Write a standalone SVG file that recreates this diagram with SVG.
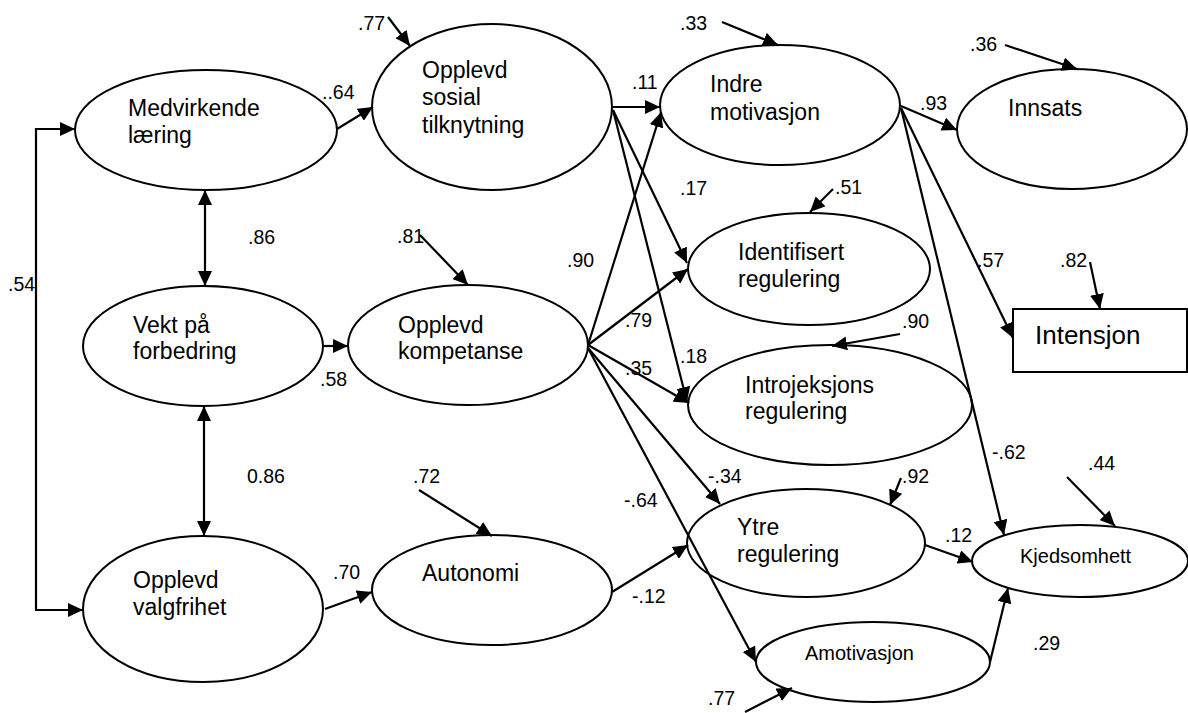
<svg xmlns="http://www.w3.org/2000/svg" width="1188" height="713" viewBox="0 0 1188 713">
<defs>
<marker id="ah" markerUnits="userSpaceOnUse" markerWidth="16" markerHeight="14" refX="15" refY="7" orient="auto">
<path d="M0,0 L15,7 L0,14 z" fill="#000"/>
</marker>
<marker id="ahs" markerUnits="userSpaceOnUse" markerWidth="16" markerHeight="14" refX="1" refY="7" orient="auto">
<path d="M16,0 L1,7 L16,14 z" fill="#000"/>
</marker>
</defs>
<style>
.n ellipse, .n rect { fill: #fff; stroke: #000; stroke-width: 2; }
.t { font-family: "Liberation Sans", Arial, sans-serif; font-size: 23px; fill: #000; }
.ts { font-family: "Liberation Sans", Arial, sans-serif; font-size: 20px; fill: #000; }
.lb { font-family: "Liberation Sans", Arial, sans-serif; font-size: 19.5px; fill: #000; }
#connectors line, #connectors polyline { stroke: #000; stroke-width: 2.2; fill: none; marker-end: url(#ah); }
#connectors .dbl { marker-start: url(#ahs); }
</style>
<rect width="1188" height="713" fill="#fff"/>

<g id="n-medvirkende" class="n"><ellipse cx="206" cy="130" rx="131" ry="60"/><text class="t" x="128" y="116">Medvirkende</text><text class="t" x="128" y="143">læring</text></g>
<g id="n-sosial" class="n"><ellipse cx="492" cy="107" rx="120" ry="83"/><text class="t" x="422" y="78">Opplevd</text><text class="t" x="422" y="105">sosial</text><text class="t" x="422" y="133">tilknytning</text></g>
<g id="n-indre" class="n"><ellipse cx="780" cy="105" rx="120" ry="60"/><text class="t" x="710" y="92">Indre</text><text class="t" x="710" y="120">motivasjon</text></g>
<g id="n-innsats" class="n"><ellipse cx="1072" cy="129" rx="115" ry="60"/><text class="t" x="1008" y="116">Innsats</text></g>
<g id="n-identifisert" class="n"><ellipse cx="809" cy="269" rx="121" ry="56"/><text class="t" x="738" y="260">Identifisert</text><text class="t" x="738" y="287">regulering</text></g>
<g id="n-introjeksjons" class="n"><ellipse cx="830" cy="405" rx="142" ry="60"/><text class="t" x="745" y="393">Introjeksjons</text><text class="t" x="745" y="419">regulering</text></g>
<g id="n-intensjon" class="n"><rect x="1013" y="309" width="174" height="63"/><text class="t" x="1035" y="344" style="font-size:26px">Intensjon</text></g>
<g id="n-vekt" class="n"><ellipse cx="203" cy="346" rx="120" ry="60"/><text class="t" x="133" y="333">Vekt på</text><text class="t" x="133" y="359">forbedring</text></g>
<g id="n-kompetanse" class="n"><ellipse cx="468" cy="345" rx="120" ry="60"/><text class="t" x="398" y="333">Opplevd</text><text class="t" x="398" y="359">kompetanse</text></g>
<g id="n-valgfrihet" class="n"><ellipse cx="203" cy="609" rx="120" ry="73"/><text class="t" x="133" y="588">Opplevd</text><text class="t" x="133" y="615">valgfrihet</text></g>
<g id="n-autonomi" class="n"><ellipse cx="492" cy="590" rx="120" ry="55"/><text class="t" x="422" y="581">Autonomi</text></g>
<g id="n-ytre" class="n"><ellipse cx="806" cy="543" rx="119" ry="54"/><text class="t" x="737" y="535">Ytre</text><text class="t" x="737" y="562">regulering</text></g>
<g id="n-kjedsomhett" class="n"><ellipse cx="1080" cy="561" rx="108" ry="36"/><text class="ts" x="1020" y="563">Kjedsomhett</text></g>
<g id="n-amotivasjon" class="n"><ellipse cx="873" cy="662" rx="117" ry="40"/><text class="ts" x="805" y="660">Amotivasjon</text></g>

<g id="connectors">
<polyline points="75,129 36,129 36,610 83,610" style="marker-start:url(#ahs)"/>
<line class="dbl" x1="205" y1="190" x2="205" y2="286"/>
<line class="dbl" x1="204" y1="406" x2="204" y2="536"/>
<line x1="337" y1="129" x2="373" y2="107"/>
<line x1="388" y1="17" x2="410" y2="46"/>
<line x1="612" y1="107" x2="660" y2="107"/>
<line x1="613" y1="110" x2="687" y2="263"/>
<line x1="613" y1="110" x2="687" y2="402"/>
<line x1="588" y1="345" x2="661" y2="112"/>
<line x1="588" y1="345" x2="688" y2="269"/>
<line x1="588" y1="345" x2="689" y2="403"/>
<line x1="588" y1="348" x2="720" y2="504"/>
<line x1="588" y1="348" x2="756" y2="662"/>
<line x1="612" y1="592" x2="688" y2="545"/>
<line x1="325" y1="609" x2="372" y2="592"/>
<line x1="323" y1="346" x2="348" y2="346"/>
<line x1="420" y1="235" x2="468" y2="285"/>
<line x1="419" y1="490" x2="492" y2="536"/>
<line x1="722" y1="22" x2="778" y2="45"/>
<line x1="1005" y1="45" x2="1077" y2="69"/>
<line x1="901" y1="106" x2="957" y2="130"/>
<line x1="833" y1="189" x2="810" y2="212"/>
<line x1="901" y1="108" x2="1013" y2="338"/>
<line x1="901" y1="108" x2="1004" y2="535"/>
<line x1="1090" y1="262" x2="1100" y2="309"/>
<line x1="900" y1="334" x2="832" y2="346"/>
<line x1="901" y1="478" x2="890" y2="505"/>
<line x1="1067" y1="477" x2="1115" y2="526"/>
<line x1="925" y1="545" x2="973" y2="562"/>
<line x1="990" y1="662" x2="1008" y2="588"/>
<line x1="745" y1="712" x2="792" y2="688"/>
</g>

<g id="labels">
<text class="lb" x="358" y="30">.77</text>
<text class="lb" x="322" y="99">..64</text>
<text class="lb" x="248" y="244">.86</text>
<text class="lb" x="8" y="291">.54</text>
<text class="lb" x="320" y="386">.58</text>
<text class="lb" x="247" y="483">0.86</text>
<text class="lb" x="333" y="579">.70</text>
<text class="lb" x="413" y="483">.72</text>
<text class="lb" x="680" y="30">.33</text>
<text class="lb" x="632" y="89">.11</text>
<text class="lb" x="680" y="195">.17</text>
<text class="lb" x="397" y="243">.81</text>
<text class="lb" x="567" y="267">.90</text>
<text class="lb" x="625" y="327">.79</text>
<text class="lb" x="625" y="375">.35</text>
<text class="lb" x="680" y="363">.18</text>
<text class="lb" x="708" y="483">-.34</text>
<text class="lb" x="624" y="507">-.64</text>
<text class="lb" x="632" y="603">-.12</text>
<text class="lb" x="708" y="705">.77</text>
<text class="lb" x="970" y="51">.36</text>
<text class="lb" x="920" y="110">.93</text>
<text class="lb" x="835" y="194">.51</text>
<text class="lb" x="977" y="267">.57</text>
<text class="lb" x="1060" y="267">.82</text>
<text class="lb" x="902" y="328">.90</text>
<text class="lb" x="992" y="459">-.62</text>
<text class="lb" x="1088" y="470">.44</text>
<text class="lb" x="902" y="483">.92</text>
<text class="lb" x="945" y="542">.12</text>
<text class="lb" x="1033" y="650">.29</text>
</g>
</svg>
